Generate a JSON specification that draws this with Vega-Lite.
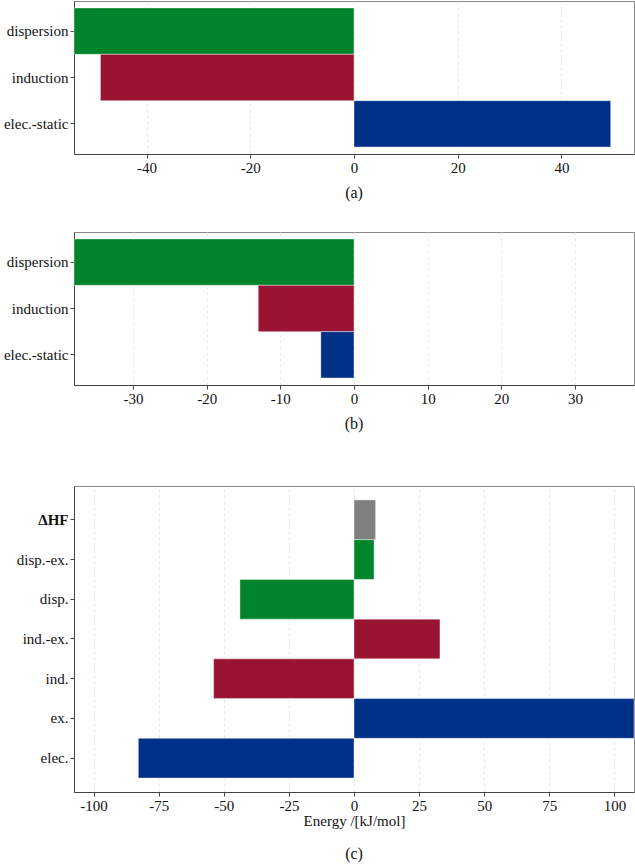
{
  "$schema": "https://vega.github.io/schema/vega-lite/v6.json",
  "padding": {"left": 2, "top": 0, "right": 0, "bottom": 0},
  "background": "white",
  "spacing": 52,
  "config": {
    "font": "Liberation Serif",
    "view": {"stroke": "#8a8a8a", "strokeWidth": 1},
    "axis": {
      "labelFont": "Liberation Serif",
      "labelFontSize": 15,
      "labelColor": "#111",
      "titleFont": "Liberation Serif",
      "titleFontSize": 15,
      "titleFontWeight": "normal",
      "titleColor": "#111",
      "domainColor": "#444",
      "tickColor": "#444",
      "tickSize": 4,
      "labelPadding": 2,
      "gridColor": "#e3e3e3",
      "gridDash": [3, 3],
      "gridWidth": 0.8
    },
    "axisY": {"grid": false},
    "title": {"font": "Liberation Serif", "fontSize": 16, "fontWeight": "normal", "color": "#111", "orient": "bottom", "offset": 10},
    "bar": {"stroke": "white", "strokeWidth": 0.8, "strokeOpacity": 0.5}
  },
  "vconcat": [
    {
      "spacing": 29,
      "vconcat": [
        {
          "width": 560,
          "height": 153,
          "title": {"text": "(a)"},
          "data": {"values": [
            {"term": "dispersion", "group": "disp", "value": -54},
            {"term": "induction", "group": "ind", "value": -48.9},
            {"term": "elec.-static", "group": "elec", "value": 49.5}
          ]},
          "mark": {"type": "bar"},
          "encoding": {
            "y": {"field": "term", "type": "nominal", "sort": ["dispersion", "induction", "elec.-static"],
                  "scale": {"paddingInner": 0, "paddingOuter": 0.15}, "axis": {"title": null}},
            "x": {"field": "value", "type": "quantitative",
                  "scale": {"domain": [-54, 54], "nice": false},
                  "axis": {"title": null, "values": [-40, -20, 0, 20, 40], "labelExpr": "'' + datum.value"}},
            "color": {"field": "group", "type": "nominal",
                      "scale": {"domain": ["elec", "ind", "disp", "hf"], "range": ["#003087", "#981432", "#00842b", "#808080"]},
                      "legend": null}
          }
        },
        {
          "width": 560,
          "height": 153,
          "title": {"text": "(b)"},
          "data": {"values": [
            {"term": "dispersion", "group": "disp", "value": -38},
            {"term": "induction", "group": "ind", "value": -13.0},
            {"term": "elec.-static", "group": "elec", "value": -4.5}
          ]},
          "mark": {"type": "bar"},
          "encoding": {
            "y": {"field": "term", "type": "nominal", "sort": ["dispersion", "induction", "elec.-static"],
                  "scale": {"paddingInner": 0, "paddingOuter": 0.15}, "axis": {"title": null}},
            "x": {"field": "value", "type": "quantitative",
                  "scale": {"domain": [-38, 38], "nice": false},
                  "axis": {"title": null, "values": [-30, -20, -10, 0, 10, 20, 30], "labelExpr": "'' + datum.value"}},
            "color": {"field": "group", "type": "nominal",
                      "scale": {"domain": ["elec", "ind", "disp", "hf"], "range": ["#003087", "#981432", "#00842b", "#808080"]},
                      "legend": null}
          }
        }
      ]
    },
    {
      "width": 560,
      "height": 306,
      "title": {"text": "(c)", "offset": 18},
      "data": {"values": [
        {"term": "ΔHF", "group": "hf", "value": 8.3},
        {"term": "disp.-ex.", "group": "disp", "value": 7.7},
        {"term": "disp.", "group": "disp", "value": -43.8},
        {"term": "ind.-ex.", "group": "ind", "value": 33.0},
        {"term": "ind.", "group": "ind", "value": -53.9},
        {"term": "ex.", "group": "elec", "value": 107.5},
        {"term": "elec.", "group": "elec", "value": -82.8}
      ]},
      "mark": {"type": "bar"},
      "encoding": {
        "y": {"field": "term", "type": "nominal", "sort": ["ΔHF", "disp.-ex.", "disp.", "ind.-ex.", "ind.", "ex.", "elec."],
              "scale": {"paddingInner": 0, "paddingOuter": 0.35},
              "axis": {"title": null, "labelFontWeight": {"expr": "datum.value == 'ΔHF' ? 'bold' : 'normal'"}}},
        "x": {"field": "value", "type": "quantitative",
              "scale": {"domain": [-107.5, 107.5], "nice": false},
              "axis": {"title": "Energy /[kJ/mol]", "titlePadding": 0, "values": [-100, -75, -50, -25, 0, 25, 50, 75, 100], "labelExpr": "'' + datum.value"}},
        "color": {"field": "group", "type": "nominal",
                  "scale": {"domain": ["elec", "ind", "disp", "hf"], "range": ["#003087", "#981432", "#00842b", "#808080"]},
                  "legend": null}
      }
    }
  ]
}
